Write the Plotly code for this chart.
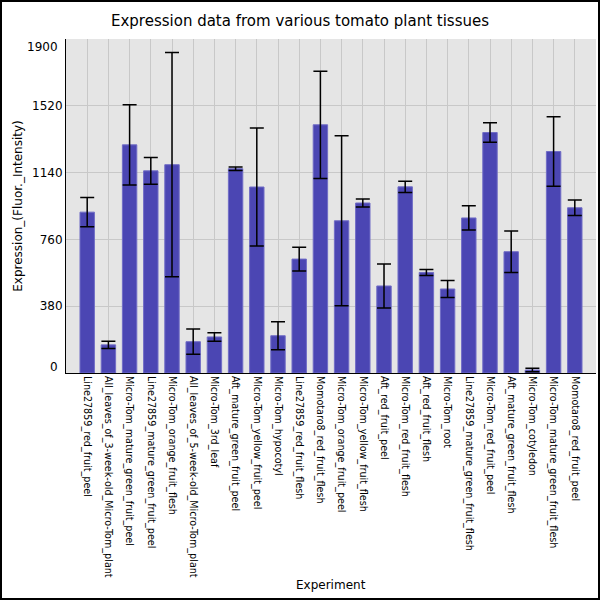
import plotly.graph_objects as go

# tissues in the order they appear on the x axis
tissues = [
    "Line27859_red_fruit_peel",
    "All_leaves_of_3-week-old_Micro-Tom_plant",
    "Micro-Tom_mature_green_fruit_peel",
    "Line27859_mature_green_fruit_peel",
    "Micro-Tom_orange_fruit_flesh",
    "All_leaves_of_5-week-old_Micro-Tom_plant",
    "Micro-Tom_3rd_leaf",
    "Aft_mature_green_fruit_peel",
    "Micro-Tom_yellow_fruit_peel",
    "Micro-Tom_hypocotyl",
    "Line27859_red_fruit_flesh",
    "Momotaro8_red_fruit_flesh",
    "Micro-Tom_orange_fruit_peel",
    "Micro-Tom_yellow_fruit_flesh",
    "Aft_red_fruit_peel",
    "Micro-Tom_red_fruit_flesh",
    "Aft_red_fruit_flesh",
    "Micro-Tom_root",
    "Line27859_mature_green_fruit_flesh",
    "Micro-Tom_red_fruit_peel",
    "Aft_mature_green_fruit_flesh",
    "Micro-Tom_cotyledon",
    "Micro-Tom_mature_green_fruit_flesh",
    "Momotaro8_red_fruit_peel",
]
expression = [915, 160, 1298, 1150, 1185, 178, 205, 1162, 1058, 212, 648, 1412,
              866, 967, 495, 1059, 572, 478, 882, 1368, 690, 17, 1260, 940]
std_err = [83, 20, 228, 76, 638, 72, 24, 10, 336, 80, 68, 305,
           483, 23, 125, 32, 17, 48, 69, 56, 118, 10, 198, 44]
y_ticks = [0, 380, 760, 1140, 1520, 1900]

fig = go.Figure(go.Bar(
    x=tissues, y=expression,
    marker=dict(color="#4b46b3", line=dict(color="#716dc6", width=1)),
    error_y=dict(type="data", array=std_err, color="black",
                 thickness=1.5, width=7),
    width=0.68,
))

# end tick labels sit pulled inward, as in the original
ticktext = ["" if v in (y_ticks[0], y_ticks[-1]) else str(v) for v in y_ticks]
for v, shift in ((y_ticks[0], 6), (y_ticks[-1], -8)):
    fig.add_annotation(x=0, xref="paper", xanchor="right", xshift=-6,
                       y=v, yref="y", yshift=shift, text=str(v),
                       showarrow=False, font=dict(size=12, color="black"))

# x axis title as a note near the bottom edge
fig.add_annotation(x=0.5, xref="paper", y=-212 / 334, yref="paper",
                   yanchor="middle", text="Experiment", showarrow=False,
                   font=dict(size=12, color="black"))

# thin frame round the whole picture
fig.add_shape(type="rect", xref="paper", yref="paper",
              x0=-65 / 530, x1=1 + 3 / 530, y0=-226 / 334, y1=1 + 38 / 334,
              line=dict(color="black", width=2), layer="above")

fig.update_layout(
    width=600, height=600,
    margin=dict(l=66, r=4, t=39, b=227, autoexpand=False),
    paper_bgcolor="white", plot_bgcolor="#e5e5e5",
    font=dict(family="DejaVu Sans", color="black"),
    title=dict(text="Expression data from various tomato plant tissues",
               x=0.5, xanchor="center", y=0.965, yanchor="middle",
               font=dict(size=15)),
    showlegend=False,
    xaxis=dict(
        tickangle=90, tickfont=dict(size=9.6), automargin=False,
        range=[-1, len(tissues)], showgrid=True, gridcolor="#c8c8c8",
        showline=True, linecolor="black", linewidth=1, ticks="",
    ),
    yaxis=dict(
        title=dict(text="Expression_(Fluor._Intensity)", font=dict(size=12),
                   standoff=6),
        automargin=False,
        range=[0, 1900], tickvals=y_ticks, ticktext=ticktext,
        tickfont=dict(size=12), gridcolor="#c8c8c8", zeroline=False,
        showline=True, linecolor="black", linewidth=1, ticks="",
    ),
)

# drop the browser's default page margin so the figure sits at 0,0
fig.write_html("out.html", config={"displayModeBar": False},
               post_script="document.body.style.margin='0';")
